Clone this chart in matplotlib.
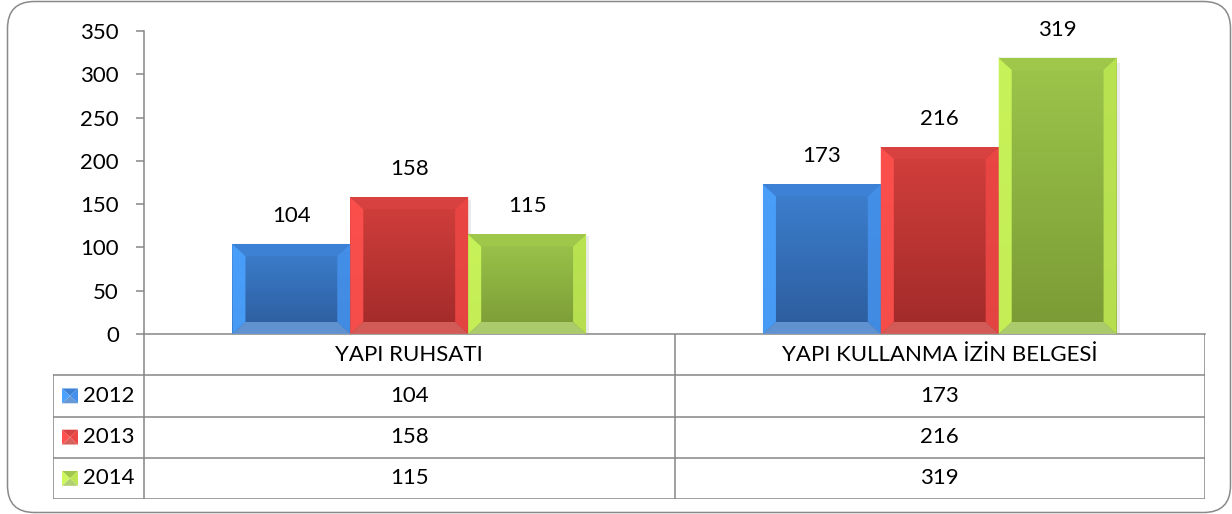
import numpy as np
import matplotlib
matplotlib.use('Agg')
import matplotlib.pyplot as plt
import matplotlib.patches as mpatches
from matplotlib.colors import LinearSegmentedColormap
from matplotlib.transforms import IdentityTransform

## data
categories = ['YAPI RUHSATI', 'YAPI KULLANMA İZİN BELGESİ']
years = ['2012', '2013', '2014']
values_2012 = [104, 173]
values_2013 = [158, 216]
values_2014 = [115, 319]
y_ticks = [0, 50, 100, 150, 200, 250, 300, 350]

series = [values_2012, values_2013, values_2014]

# bevel look per series: gradient top, gradient bottom, left, right, top, bottom bevel
styles = [
    dict(top='#3d80d0', bot='#2c5c9c', left='#4aa2ff', right='#4490ea', tb='#3d82d6', bb='#6698d6'),
    dict(top='#d33f3c', bot='#a02a29', left='#ff514e', right='#ec4744', tb='#d84240', bb='#d8615e'),
    dict(top='#9dc64b', bot='#7a9a35', left='#cdf75a', right='#bde652', tb='#a0c94c', bb='#b0d072'),
]

plt.rcParams['font.family'] = ['Lato', 'DejaVu Sans']
FS = 16
GRID = '#868686'

W, H = 1232, 514
fig = plt.figure(figsize=[W / 100, H / 100], dpi=100)

px = lambda x0, y_top, x1, y_bot: [x0 / W, (H - y_bot) / H, (x1 - x0) / W, (y_bot - y_top) / H]

# rounded chart border
fig.patches.append(mpatches.FancyBboxPatch(
    (7.5, 1.5), 1223, 511, boxstyle='round,pad=0,rounding_size=27',
    transform=IdentityTransform(), fc='white', ec='#8a8a8a', lw=1.1, zorder=-10,
))

ax = fig.add_axes(px(144, 31, 1205, 334))
ax.set_facecolor('none')

n = len(series)
w = 1 / 4.5
x = np.arange(len(categories))
ax.set_xlim(-0.5, 1.5)
ax.set_ylim(0, 350)

# bevel size in data units (about 13 px wide, 12 px high)
ax_w_px = 1205 - 144
ax_h_px = 334 - 31
dx = 13 / (ax_w_px / 2)
dy = 12 / (ax_h_px / 350)

for i, (vals, st) in enumerate(zip(series, styles)):
    xs = x + (i - (n - 1) / 2) * w
    bars = ax.bar(xs, vals, width=w, color=st['top'], lw=0, zorder=2)
    cmap = LinearSegmentedColormap.from_list('g%d' % i, [st['bot'], st['top']])
    for b, v in zip(bars, vals):
        x0, x1 = b.get_x(), b.get_x() + b.get_width()
        # soft shadow
        ax.add_patch(mpatches.Rectangle((x1, 0), 0.006, v * 0.98, fc='#000000', alpha=0.08, lw=0, zorder=1))
        im = ax.imshow(np.linspace(0, 1, 100).reshape(-1, 1), cmap=cmap, origin='lower',
                       extent=(x0, x1, 0, v), aspect='auto', zorder=2.5)
        im.set_clip_path(b)
        polys = [
            ([(x0, 0), (x0, v), (x0 + dx, v - dy), (x0 + dx, dy)], st['left']),
            ([(x1, 0), (x1, v), (x1 - dx, v - dy), (x1 - dx, dy)], st['right']),
            ([(x0, v), (x1, v), (x1 - dx, v - dy), (x0 + dx, v - dy)], st['tb']),
            ([(x0, 0), (x1, 0), (x1 - dx, dy), (x0 + dx, dy)], st['bb']),
        ]
        for pts, c in polys:
            ax.add_patch(mpatches.Polygon(pts, closed=True, fc=c, ec='none', alpha=0.9, zorder=3))
        ax.annotate(str(v), (b.get_x() + b.get_width() / 2, v), xytext=(0, 13),
                    textcoords='offset points', ha='center', va='bottom', fontsize=FS)

ax.set_xlim(-0.5, 1.5)
ax.set_ylim(0, 350)
ax.set_yticks(y_ticks)
ax.set_xticks([])
ax.tick_params(axis='y', length=6, width=1.1, color=GRID, pad=12, labelsize=FS)
for s in ['top', 'right']:
    ax.spines[s].set_visible(False)
for s in ['left', 'bottom']:
    ax.spines[s].set_color(GRID)
    ax.spines[s].set_linewidth(1.1)

## data table
left_px = 53
tax = fig.add_axes(px(left_px, 334, 1205, 499))
tax.set_facecolor('none')
tax.axis('off')
extra = (144 - left_px) / (ax_w_px / 2)
tax.set_xlim(-0.5 - extra, 1.5)
nrows = len(years) + 1
tax.set_ylim(nrows, 0)
xl = -0.5 - extra

kw = dict(color=GRID, lw=1.1, solid_capstyle='projecting')
tax.plot([-0.5, -0.5], [0, nrows], **kw)
for xb in x + 0.5:
    tax.plot([xb, xb], [0, nrows], **kw)
for r in range(1, nrows + 1):
    tax.plot([xl, 1.5], [r, r], **kw)
tax.plot([xl, xl], [1, nrows], **kw)

for xc, cat in zip(x, categories):
    tax.text(xc, 0.5, cat, ha='center', va='center', fontsize=FS)

key_w = 16 / (ax_w_px / 2)
key_h = 0.36
for r, (yr, vals, st) in enumerate(zip(years, series, styles), start=1):
    yc = r + 0.5
    kx0 = xl + 9 / (ax_w_px / 2)
    kx1 = kx0 + key_w
    cx = (kx0 + kx1) / 2
    ky0, ky1 = yc + key_h / 2, yc - key_h / 2
    for pts, c in [
        ([(kx0, ky1), (kx1, ky1), (cx, yc)], st['tb']),
        ([(kx0, ky0), (kx1, ky0), (cx, yc)], st['bb']),
        ([(kx0, ky0), (kx0, ky1), (cx, yc)], st['left']),
        ([(kx1, ky0), (kx1, ky1), (cx, yc)], st['right']),
    ]:
        tax.add_patch(mpatches.Polygon(pts, closed=True, fc=c, ec='none'))
    tax.text(kx1 + 5 / (ax_w_px / 2), yc, yr, ha='left', va='center', fontsize=FS)
    for xc, v in zip(x, vals):
        tax.text(xc, yc, str(v), ha='center', va='center', fontsize=FS)

fig.savefig('out.png', dpi=100)
